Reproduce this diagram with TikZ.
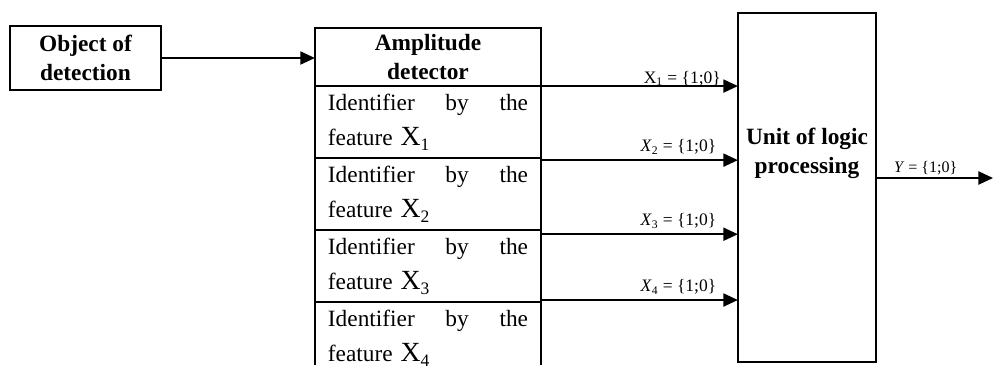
\documentclass[tikz,border=0pt]{standalone}
\usepackage{fontspec}
\setmainfont{Liberation Serif}
\usetikzlibrary{positioning,arrows.meta}
\tikzset{
  blk/.style={draw, line width=1.2pt, outer sep=0pt, inner sep=0pt, align=center,
    font=\fontsize{16}{20}\selectfont\bfseries},
  idrow/.style={line width=1.2pt, outer sep=0pt, inner sep=0pt, minimum width=5.45cm,
    minimum height=1.735cm, text width=4.82cm, align=left, font=\fontsize{16}{24}\selectfont},
  sig/.style={line width=1.2pt, -{Triangle[length=10pt,width=9pt]}},
  val/.style={font=\fontsize{12}{14}\selectfont, inner sep=0pt, anchor=base east}
}
\newcommand{\featx}[1]{{\fontsize{19}{19}\selectfont X}\raisebox{-3.5pt}{\fontsize{12}{12}\selectfont #1}}
\begin{document}
\begin{tikzpicture}[x=0.0241cm, y=-0.0241cm]
            \useasboundingbox (0,0) rectangle (994,365);
            \node (obj) [blk, minimum width=3.64cm, minimum height=1.54cm] at (85.5,58) {Object of\\detection};
            \node (amp) [blk, minimum width=5.45cm, minimum height=1.40cm] at (428,57) {Amplitude\\detector};
            \node (id1) [idrow, draw, below=0pt of amp] {Identifier\hfill by\hfill the\\feature \featx{1}};
            \node (id2) [idrow, draw, below=0pt of id1] {Identifier\hfill by\hfill the\\feature \featx{2}};
            \node (id3) [idrow, draw, below=0pt of id2] {Identifier\hfill by\hfill the\\feature \featx{3}};
            \node (id4) [idrow, below=0pt of id3] {Identifier\hfill by\hfill the\\feature \featx{4}};
            \node (unit) [blk, minimum width=3.33cm, minimum height=8.41cm] at (807,187.5) {};
            \node (unitlbl) [blk, draw=none] at (807,153) {Unit of logic\\processing};

            \coordinate (bot) at (0,365);
            \coordinate (x1) at (id1.north east);
            \coordinate (x2) at ([yshift=-0.05cm]id2.north east);
            \coordinate (x3) at ([yshift=-0.1cm]id3.north east);
            \coordinate (x4) at ([yshift=0.05cm]id4.north east);
            \coordinate (y0) at ([yshift=0.23cm]unit.east);
            \coordinate (out) at (993,178);

            \draw[line width=1.2pt] (id4.north west) -- (id4.west |- bot) (id4.north east) -- (id4.east |- bot);

            \path[sig]
            (obj.east) edge (obj.east -| amp.west)
            (x1) edge node[val, pos=1, xshift=-0.39cm, yshift=0.07cm] {X\textsubscript{1} = \{1;0\}} (x1 -| unit.west)
            (x2) edge node[val, pos=1, xshift=-0.5cm, yshift=0.2cm] {\textit{X}\textsubscript{2} = \{1;0\}} (x2 -| unit.west)
            (x3) edge node[val, pos=1, xshift=-0.5cm, yshift=0.2cm] {\textit{X}\textsubscript{3} = \{1;0\}} (x3 -| unit.west)
            (x4) edge node[val, pos=1, xshift=-0.5cm, yshift=0.2cm] {\textit{X}\textsubscript{4} = \{1;0\}} (x4 -| unit.west)
            (y0) edge node[val, font=\fontsize{11}{13}\selectfont, anchor=base west, pos=0, xshift=0.41cm, yshift=0.14cm] {\textit{Y} = \{1;0\}} (out);

        \end{tikzpicture}
\end{document}
